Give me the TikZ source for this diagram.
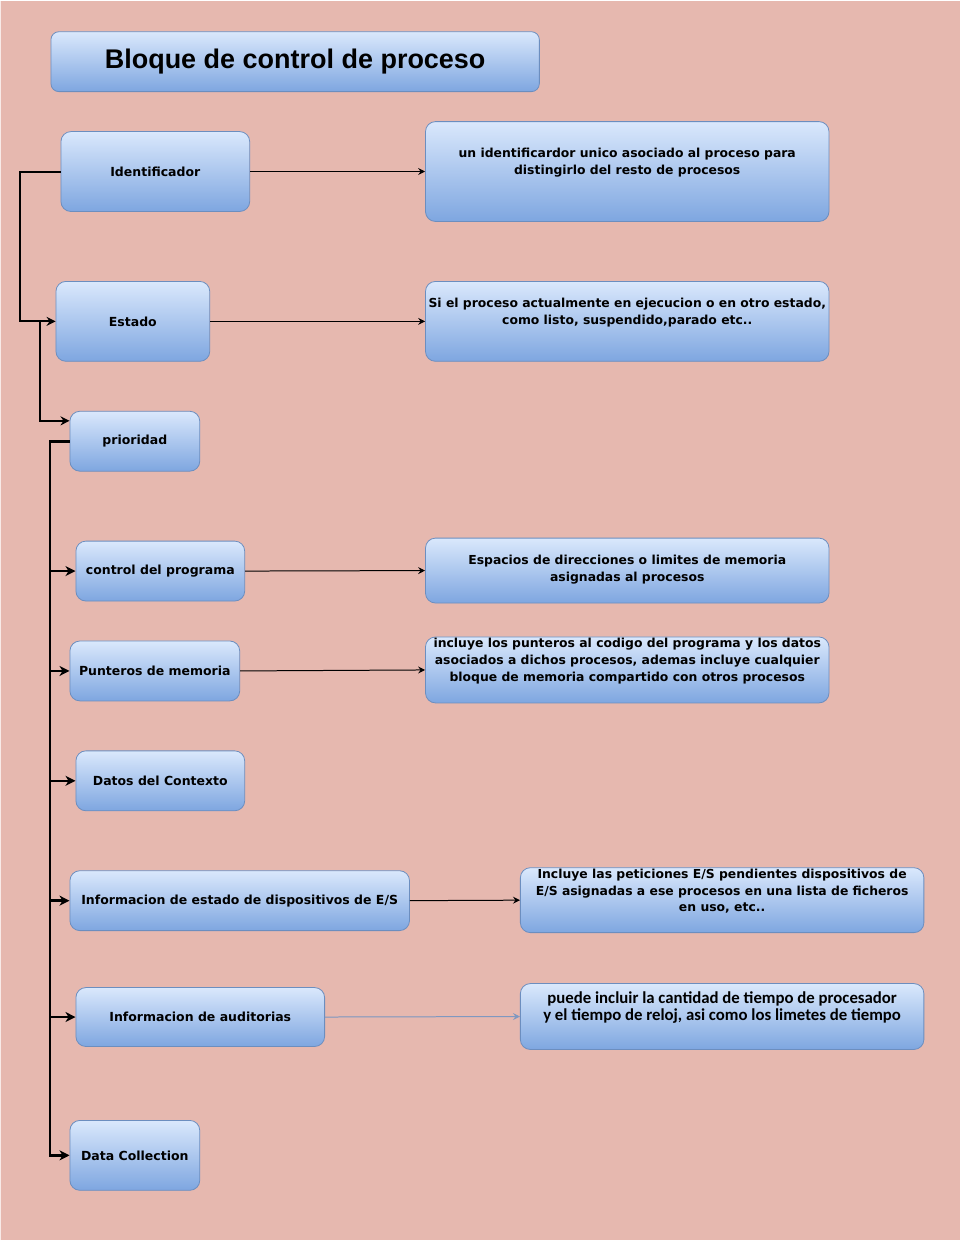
\documentclass[tikz,border=0pt]{standalone}
\usepackage{fontspec}
\setmainfont{DejaVu Sans}
\newfontfamily\titlefont{Liberation Sans}
\newfontfamily\calfont{Carlito}
\usetikzlibrary{arrows.meta}
\definecolor{bg}{HTML}{E6B8AF}
\definecolor{boxtop}{HTML}{DAE8FC}
\definecolor{boxbot}{HTML}{7EA6E0}
\definecolor{boxedge}{HTML}{6C8EBF}
\definecolor{softarrow}{HTML}{7F98C0}
\begin{document}
\begin{tikzpicture}[x=1pt,y=-1pt,
  box/.style={draw=boxedge, line width=0.8pt, top color=boxtop, bottom color=boxbot,
    rounded corners=10pt, inner sep=0pt, align=center,
    font=\fontsize{12.5}{17}\selectfont\bfseries},
  txt/.style={inner sep=0pt, align=center, font=\fontsize{12.4}{17}\selectfont\bfseries},
  trunk/.style={line width=2pt, -{Stealth[length=9pt,width=9pt,inset=3pt]}},
  trunkb/.style={line width=2.6pt, -{Stealth[length=10pt,width=10pt,inset=3pt]}},
  link/.style={line width=1pt, -{Stealth[length=7pt,width=7pt,inset=2.5pt]}}
]
% page
\fill[bg] (0,0) rectangle (961,1241);
\draw[white!70!bg, line width=1.5pt] (0.75,0) -- (0.75,1241);
\useasboundingbox (0,0) rectangle (961,1241);

% title
\node[box, rounded corners=8pt, minimum width=489pt, minimum height=60pt,
      font=\titlefont\fontsize{27}{30}\selectfont\bfseries] (title) at (295.5,61) {Bloque de control de proceso};

% fields of the process control block
\node[box, minimum width=189pt, minimum height=80pt] (id)   at (155.5,171) {Identificador};
\node[box, minimum width=154pt, minimum height=80pt] (est)  at (133,321)   {Estado};
\node[box, minimum width=130pt, minimum height=60pt] (pri)  at (135,441)   {prioridad};
\node[box, minimum width=169pt, minimum height=60pt] (cp)   at (160.5,571) {control del programa};
\node[box, minimum width=170pt, minimum height=60pt] (pm)   at (155,671)   {Punteros de memoria};
\node[box, minimum width=169pt, minimum height=60pt] (dc)   at (160.5,781) {Datos del Contexto};
\node[box, minimum width=340pt, minimum height=60pt] (ies)  at (240,901)   {Informacion de estado de dispositivos de E/S};
\node[box, minimum width=249pt, minimum height=59pt] (aud)  at (200.5,1017.5) {Informacion de auditorias};
\node[box, minimum width=130pt, minimum height=70pt] (col)  at (135,1156)  {Data Collection};

% description boxes
\node[box, minimum width=404pt, minimum height=100pt] (d1) at (628,171) {};
\node[box, minimum width=404pt, minimum height=80pt]  (d2) at (628,321) {};
\node[box, minimum width=404pt, minimum height=65pt]  (d3) at (628,570.5) {};
\node[box, minimum width=404pt, minimum height=66pt]  (d4) at (628,670) {};
\node[box, minimum width=404pt, minimum height=65pt]  (d5) at (723,900.5) {};
\node[box, minimum width=404pt, minimum height=66pt]  (d6) at (723,1017) {};

\node[txt] (t1) at (628,162) {un identificardor unico asociado al proceso para\\distingirlo del resto de procesos};
\node[txt] (t2) at (628,312) {Si el proceso actualmente en ejecucion o en otro estado,\\como listo, suspendido,parado etc..};
\node[txt] (t3) at (628,570) {Espacios de direcciones o limites de memoria\\asignadas al procesos};
\node[txt] (t4) at (628,661.5) {incluye los punteros al codigo del programa y los datos\\asociados a dichos procesos, ademas incluye cualquier\\bloque de memoria compartido con otros procesos};
\node[txt] (t5) at (723,891.5) {Incluye las peticiones E/S pendientes dispositivos de\\E/S asignadas a ese procesos en una lista de ficheros\\en uso, etc..};
\node[txt, font=\calfont\fontsize{16.8}{17}\selectfont\bfseries] (t6) at (723,1008) {puede incluir la cantidad de tiempo de procesador\\y el tiempo de reloj, asi como los limetes de tiempo};

% hierarchy on the left
\draw[trunk] (id.west) -- ++(-41,0) |- (est.west);
\coordinate (j1) at (40,321);
\draw[trunk] (j1) |- ([yshift=-10pt]pri.north west);
\foreach \t in {cp,pm,dc,ies,aud,col}
  \draw[trunkb] (pri.west) -- (50,441) |- (\t.west);

% links to the descriptions
\draw[link] (id.east)  -- (d1.west);
\draw[link] (est.east) -- (d2.west);
\draw[link] (cp.east)  -- (d3.west);
\draw[link] (pm.east)  -- (d4.west);
\draw[link] (ies.east) -- (d5.west);
\draw[link, draw=softarrow, fill=softarrow] (aud.east) -- (d6.west);
\end{tikzpicture}
\end{document}
